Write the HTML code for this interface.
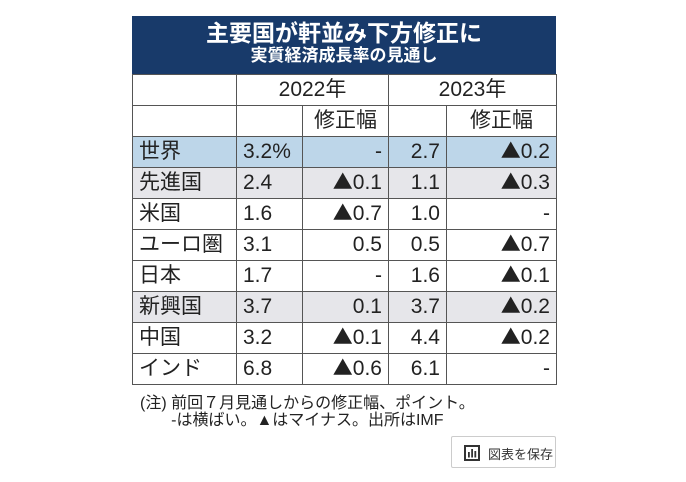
<!DOCTYPE html>
<html><head><meta charset="utf-8"><style>
body{margin:0;width:686px;height:482px;background:#fff;font-family:"Liberation Sans","Noto Sans CJK JP",sans-serif;position:relative;overflow:hidden}
.hd{position:absolute;left:132px;top:16px;width:424px;height:58px;background:#183a6a;color:#fff;text-align:center}
.t1{font-size:23px;font-weight:bold;line-height:24px;margin-top:5px}
.t2{font-size:17px;line-height:21px;font-weight:bold}
table{position:absolute;left:132px;top:74px;border-collapse:collapse;font-size:21px;color:#222;table-layout:fixed}
td{border:1px solid #555;height:31px;line-height:28px;padding:0 6px;white-space:nowrap;box-sizing:border-box;overflow:hidden}
td.r{text-align:right}
.tri{font-family:"Noto Sans CJK JP",sans-serif;font-size:20px;line-height:0}
.g td{background:#e6e6ea}
.b td{background:#bdd6e9}
.note{position:absolute;left:140px;top:395px;font-size:16px;line-height:17px;color:#222;white-space:nowrap}
.btn{position:absolute;left:451px;top:436px;width:105px;height:32px;border:1px solid #ccc;border-radius:2px;font-size:13px;color:#333;box-sizing:border-box;white-space:nowrap}
</style></head><body>
<div class="hd"><div class="t1">主要国が軒並み下方修正に</div><div class="t2">実質経済成長率の見通し</div></div>
<table>
<colgroup><col style="width:104px"><col style="width:66px"><col style="width:86px"><col style="width:58px"><col style="width:110px"></colgroup>
<tr><td></td><td colspan="2" style="text-align:center">2022年</td><td colspan="2" style="text-align:center">2023年</td></tr>
<tr><td></td><td></td><td style="text-align:center">修正幅</td><td></td><td style="text-align:center">修正幅</td></tr>
<tr class="b"><td>世界</td><td>3.2%</td><td class="r">-</td><td class="r">2.7</td><td class="r"><span class="tri">▲</span>0.2</td></tr>
<tr class="g"><td>先進国</td><td>2.4</td><td class="r"><span class="tri">▲</span>0.1</td><td class="r">1.1</td><td class="r"><span class="tri">▲</span>0.3</td></tr>
<tr><td>米国</td><td>1.6</td><td class="r"><span class="tri">▲</span>0.7</td><td class="r">1.0</td><td class="r">-</td></tr>
<tr><td>ユーロ圏</td><td>3.1</td><td class="r">0.5</td><td class="r">0.5</td><td class="r"><span class="tri">▲</span>0.7</td></tr>
<tr><td>日本</td><td>1.7</td><td class="r">-</td><td class="r">1.6</td><td class="r"><span class="tri">▲</span>0.1</td></tr>
<tr class="g"><td>新興国</td><td>3.7</td><td class="r">0.1</td><td class="r">3.7</td><td class="r"><span class="tri">▲</span>0.2</td></tr>
<tr><td>中国</td><td>3.2</td><td class="r"><span class="tri">▲</span>0.1</td><td class="r">4.4</td><td class="r"><span class="tri">▲</span>0.2</td></tr>
<tr><td>インド</td><td>6.8</td><td class="r"><span class="tri">▲</span>0.6</td><td class="r">6.1</td><td class="r">-</td></tr>
</table>
<div class="note">(注) 前回７月見通しからの修正幅、ポイント。<br>&nbsp;&nbsp;&nbsp;&nbsp;&nbsp;&nbsp;&nbsp;-は横ばい。▲はマイナス。出所はIMF</div>
<div class="btn"><svg style="position:absolute;left:12px;top:8px" width="16" height="16"><rect x="1" y="1" width="14" height="14" fill="none" stroke="#333" stroke-width="2"/><rect x="4" y="7" width="1.8" height="5.5" fill="#333"/><rect x="7.2" y="4" width="1.8" height="8.5" fill="#333"/><rect x="10.4" y="6" width="1.8" height="6.5" fill="#333"/></svg><span style="position:absolute;left:36px;top:7px">図表を保存</span></div>
</body></html>
